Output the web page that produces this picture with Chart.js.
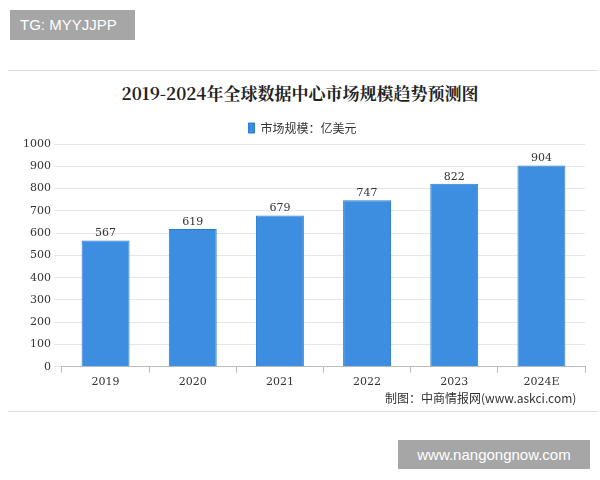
<!DOCTYPE html>
<html><head><meta charset="utf-8">
<script src="https://cdn.jsdelivr.net/npm/chart.js@4"></script>
<style>
body{margin:0;width:600px;height:480px;background:#fff;position:relative;font-family:"Noto Sans CJK SC",sans-serif;overflow:hidden}
#tg{position:absolute;left:10px;top:10px;width:125px;height:30px;background:#a6a6a6;color:#fff;font:15px "Liberation Sans",Arial;line-height:30px;padding-left:10px;box-sizing:border-box}
#wm{position:absolute;left:398px;top:440px;width:192px;height:29px;background:#a6a6a6;color:#fff;font:15px "Liberation Sans",Arial;line-height:29px;text-align:center}
#frame{position:absolute;left:8px;top:70px;width:590px;height:340px;border-top:1px solid #ddd;border-bottom:1px solid #ddd}
#title{position:absolute;left:0;top:80px;width:600px;text-align:center;font:bold 17px "Noto Serif CJK SC","Noto Sans CJK SC",serif;color:#222}
#src{position:absolute;left:385px;top:389px;font:12px "Noto Sans CJK SC",sans-serif;color:#333}
#c{position:absolute;left:20px;top:112px}
</style></head><body>
<div id="tg">TG: MYYJJPP</div>
<div id="frame"></div>
<div id="title">2019-2024年全球数据中心市场规模趋势预测图</div>
<div id="c"><canvas id="cv" width="575" height="280"></canvas></div>
<div id="src">制图：中商情报网(www.askci.com)</div>
<div id="wm">www.nangongnow.com</div>
<script>
const categories=["2019","2020","2021","2022","2023","2024E"];
const values=[567,619,679,747,822,904];
const seriesName="市场规模：亿美元";
Chart.register({id:'lbl',afterDatasetsDraw(ch){const c=ch.ctx;const m=ch.getDatasetMeta(0);c.save();c.font='11px "DejaVu Serif",serif';c.fillStyle='#333';c.textAlign='center';m.data.forEach((b,i)=>c.fillText(values[i],b.x,b.y-7));c.restore();}});
new Chart(document.getElementById('cv'),{type:'bar',data:{labels:categories,datasets:[{label:seriesName,data:values,backgroundColor:'#3d8ee0',borderColor:'#2a7bd0',borderWidth:1,barPercentage:0.55,categoryPercentage:1}]},
options:{responsive:false,animation:false,layout:{padding:{right:10,bottom:0}},
plugins:{legend:{labels:{boxWidth:6,boxHeight:10,font:{size:12,family:'"Noto Sans CJK SC"'},color:'#333',padding:10}},tooltip:{enabled:false}},
scales:{y:{min:0,max:1000,ticks:{stepSize:100,callback:v=>String(v),font:{size:11,family:'"DejaVu Serif"'},color:'#333'},grid:{color:'#e6e6e6'},border:{display:false}},
x:{ticks:{font:{size:11,family:'"DejaVu Serif"'},color:'#333'},grid:{display:true,drawOnChartArea:false,color:'#bbb',tickLength:6},border:{color:'#bbb'}}}}});
</script></body></html>
